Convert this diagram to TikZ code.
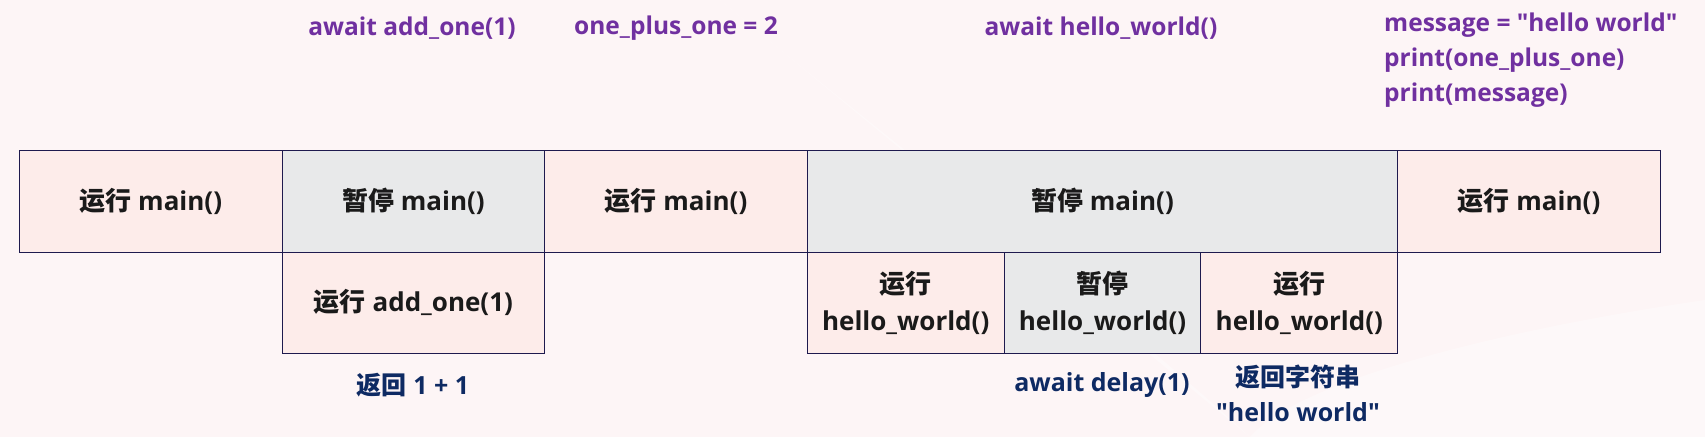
\documentclass[tikz,border=0pt]{standalone}
\usepackage{fontspec}
\setmainfont{Open Sans}[Ligatures=TeXOff]
\newfontfamily\cjk{Noto Sans CJK SC}
\definecolor{bg}{HTML}{FDF5F6}
\definecolor{pinkbox}{HTML}{FDECEA}
\definecolor{greybox}{HTML}{E8E9EA}
\definecolor{bordercol}{HTML}{1E1A4E}
\definecolor{codepurple}{HTML}{7030A0}
\definecolor{navy}{HTML}{0E2A63}
\definecolor{boxtext}{HTML}{1A1A1A}
\tikzset{
  box/.style={draw=bordercol, line width=0.9pt, inner sep=0pt, align=center,
    text=boxtext, font=\fontsize{26}{37}\selectfont\bfseries},
  runbox/.style={box, fill=pinkbox},
  pausebox/.style={box, fill=greybox},
  code/.style={text=codepurple, inner sep=0pt, font=\fontsize{24.5}{35}\selectfont\bfseries},
  note/.style={text=navy, inner sep=0pt, align=center, font=\fontsize{25}{35}\selectfont\bfseries},
}
\begin{document}
\begin{tikzpicture}[x=1pt,y=-1pt]
\fill[bg] (0,0) rectangle (1705,437);
\useasboundingbox (0,0) rectangle (1705,437);
\fill[white,opacity=0.35] (720,0) .. controls (900,150) and (1100,300) .. (1250,437) -- (1705,437) -- (1705,300) .. controls (1500,330) and (1300,380) .. (1250,437) -- cycle;
% top row
\node[runbox, minimum width=262.6pt, minimum height=102pt] (r1) at (150.8,201) {{\cjk 运行} main()};
\node[pausebox, minimum width=262.6pt, minimum height=102pt] (p1) at (413.4,201) {{\cjk 暂停} main()};
\node[runbox, minimum width=262.6pt, minimum height=102pt] (r2) at (676.0,201) {{\cjk 运行} main()};
\node[pausebox, minimum width=590.4pt, minimum height=102pt] (p2) at (1102.5,201) {{\cjk 暂停} main()};
\node[runbox, minimum width=262.6pt, minimum height=102pt] (r3) at (1529.0,201) {{\cjk 运行} main()};
% bottom row
\node[runbox, minimum width=262.6pt, minimum height=101pt] (a1) at (413.4,302.5) {{\cjk 运行} add\_one(1)};
\node[runbox, minimum width=196.8pt, minimum height=101pt] (h1) at (905.7,302.5) {{\cjk 运行}\\hello\_world()};
\node[pausebox, minimum width=196.8pt, minimum height=101pt] (h2) at (1102.5,302.5) {{\cjk 暂停}\\hello\_world()};
\node[runbox, minimum width=196.8pt, minimum height=101pt] (h3) at (1299.3,302.5) {{\cjk 运行}\\hello\_world()};
% code labels
\node[code] (c1) at (412,28) {await add\_one(1)};
\node[code] (c2) at (676,28) {one\_plus\_one = 2};
\node[code] (c3) at (1101,28) {await hello\_world()};
\node[code, anchor=west, align=left] (c4) at (1384,60) {message = "hello world"\\print(one\_plus\_one)\\print(message)};
% notes
\node[note] (n1) at (413,385) {{\cjk 返回} 1 + 1};
\node[note] (n2) at (1102,385) {await delay(1)};
\node[note] (n3) at (1298,393) {{\cjk 返回字符串}\\"hello world"};
\end{tikzpicture}
\end{document}
